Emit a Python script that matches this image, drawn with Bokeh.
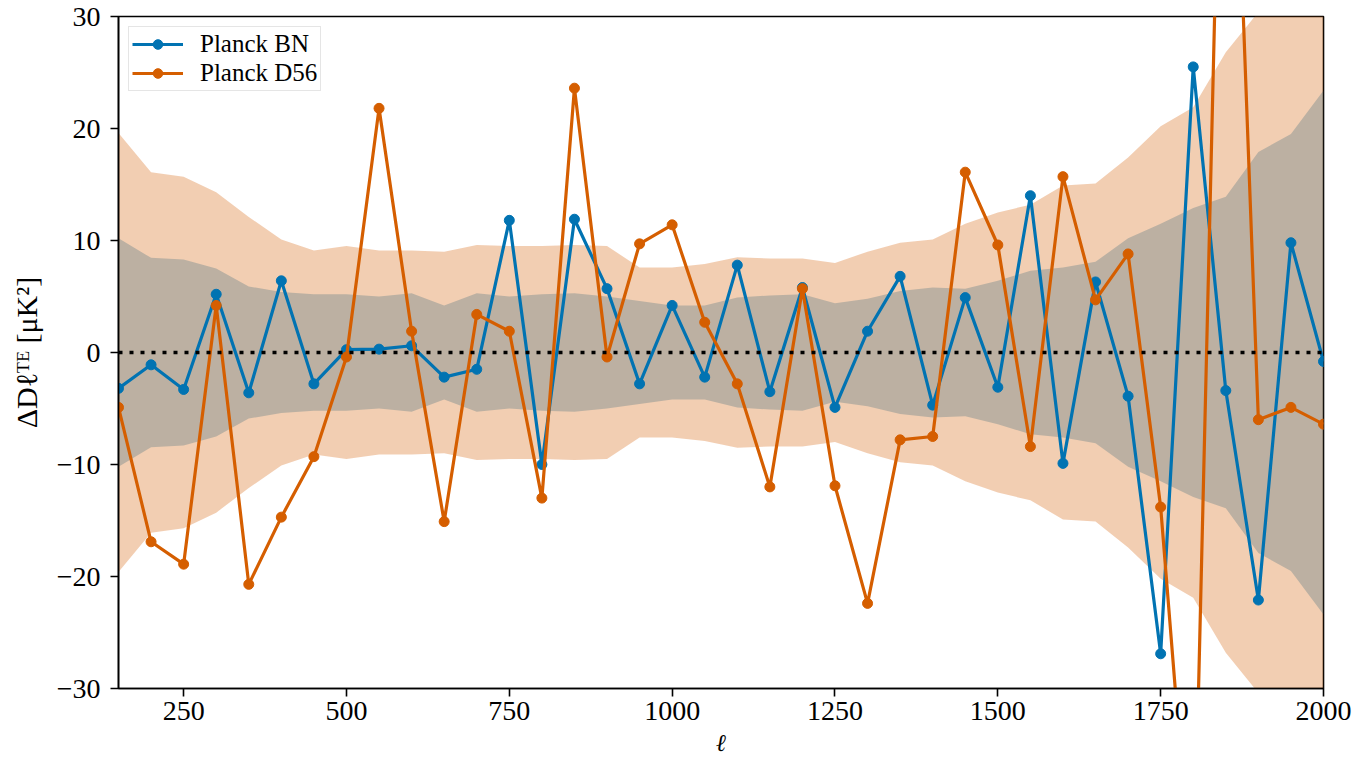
from bokeh.plotting import figure
from bokeh.models import Span, Legend, LegendItem, FixedTicker, ColumnDataSource
from bokeh.embed import file_html
from bokeh.resources import INLINE

ell = [150, 200, 250, 300, 350, 400, 450, 500, 550, 600, 650, 700, 750, 800,
       850, 900, 950, 1000, 1050, 1100, 1150, 1200, 1250, 1300, 1350, 1400,
       1450, 1500, 1550, 1600, 1650, 1700, 1750, 1800, 1850, 1900, 1950, 2000]

planck_bn = [-3.2, -1.1, -3.3, 5.2, -3.6, 6.4, -2.8, 0.25, 0.3, 0.6, -2.2, -1.5,
             11.8, -10.0, 11.9, 5.7, -2.8, 4.2, -2.2, 7.8, -3.5, 5.8, -4.9, 1.9,
             6.8, -4.7, 4.9, -3.1, 14.0, -9.9, 6.3, -3.9, -26.9, 25.5, -3.4,
             -22.1, 9.8, -0.8]

planck_d56 = [-4.9, -16.9, -18.9, 4.2, -20.7, -14.7, -9.3, -0.4, 21.8, 1.9,
              -15.1, 3.4, 1.9, -13.0, 23.6, -0.4, 9.7, 11.4, 2.7, -2.8, -12.0,
              5.7, -11.9, -22.4, -7.8, -7.5, 16.1, 9.6, -8.4, 15.7, 4.7, 8.8,
              -13.8, -50.0, 72.0, -6.0, -4.9, -6.4]

# half-widths of the shaded bands (symmetric about zero)
sigma_bn = [10.2, 8.45, 8.3, 7.5, 5.9, 5.4, 5.2, 5.2, 5.0, 5.3, 4.2, 5.3, 5.0,
            5.2, 5.3, 5.0, 4.6, 4.2, 4.2, 4.9, 5.1, 5.2, 4.4, 4.8, 5.5, 5.8,
            5.7, 6.4, 7.3, 7.6, 8.1, 10.2, 11.5, 12.9, 13.9, 17.9, 19.5, 23.4]

sigma_d56 = [19.6, 16.1, 15.7, 14.3, 12.1, 10.1, 9.1, 9.5, 9.1, 9.1, 9.0, 9.6,
             9.5, 9.5, 9.6, 9.5, 7.6, 7.6, 7.9, 8.5, 8.4, 8.4, 8.0, 9.0, 9.8,
             10.1, 11.5, 12.5, 13.2, 14.9, 15.1, 17.4, 20.2, 21.9, 26.8, 30.4,
             32.5, 34.0]

x_ticks = [250, 500, 750, 1000, 1250, 1500, 1750, 2000]
y_ticks = [-30, -20, -10, 0, 10, 20, 30]
y_tick_labels = ["\u221230", "\u221220", "\u221210", "0", "10", "20", "30"]

series_names = ["Planck BN", "Planck D56"]
x_label = "\u2113"
y_label = "\u0394D\u2113\u1d40\u1d31 [\u03bcK\u00b2]"
BLUE = "#0173B2"
ORANGE = "#D55E00"
FONT = "Liberation Serif"

src = ColumnDataSource(dict(
    ell=ell, bn=planck_bn, d56=planck_d56,
    bn_lo=[-s for s in sigma_bn], bn_hi=sigma_bn,
    d56_lo=[-s for s in sigma_d56], d56_hi=sigma_d56,
))

p = figure(width=1364, height=760, x_range=(150, 2000), y_range=(-30, 30),
           output_backend="svg", toolbar_location=None,
           min_border_left=118, min_border_right=41,
           min_border_top=16, min_border_bottom=72)

p.grid.visible = False
p.outline_line_color = "black"
p.outline_line_width = 1.6
p.background_fill_color = "white"
p.border_fill_color = "white"

# shaded bands: BN first, D56 on top
p.varea(x="ell", y1="bn_lo", y2="bn_hi", source=src, fill_color=BLUE, fill_alpha=0.3)
p.varea(x="ell", y1="d56_lo", y2="d56_hi", source=src, fill_color=ORANGE, fill_alpha=0.3)

zero = Span(location=0, dimension="width", line_color="black",
            line_width=3.5, line_dash="4 7")
p.add_layout(zero)

l1 = p.line("ell", "bn", source=src, line_color=BLUE, line_width=3.2)
s1 = p.scatter("ell", "bn", source=src, size=10, fill_color=BLUE, line_color=BLUE)
l2 = p.line("ell", "d56", source=src, line_color=ORANGE, line_width=3.2)
s2 = p.scatter("ell", "d56", source=src, size=10, fill_color=ORANGE, line_color=ORANGE)

legend = Legend(items=[LegendItem(label=series_names[0], renderers=[l1, s1]),
                       LegendItem(label=series_names[1], renderers=[l2, s2])],
                location="top_left")
legend.margin = 10
legend.padding = 3
legend.spacing = 1
legend.glyph_width = 51
legend.glyph_height = 24
legend.label_height = 24
legend.label_standoff = 17
legend.label_text_font = FONT
legend.label_text_font_size = "25px"
legend.label_text_color = "black"
legend.border_line_color = "#cccccc"
legend.border_line_width = 1.5
legend.background_fill_alpha = 0.8
p.add_layout(legend)

# axes
p.xaxis.ticker = FixedTicker(ticks=x_ticks)
p.yaxis.ticker = FixedTicker(ticks=y_ticks)
p.yaxis.major_label_overrides = dict(zip(y_ticks, y_tick_labels))
for ax in (p.xaxis[0], p.yaxis[0]):
    ax.axis_line_color = "black"
    ax.axis_line_width = 1.6
    ax.major_tick_line_color = "black"
    ax.major_tick_line_width = 1.6
    ax.major_tick_out = 8
    ax.major_tick_in = 0
    ax.minor_tick_line_color = None
    ax.major_label_text_font = FONT
    ax.major_label_text_font_size = "28px"
    ax.major_label_text_color = "black"
    ax.axis_label_text_font = FONT
    ax.axis_label_text_font_size = "30px"
    ax.axis_label_text_font_style = "normal"
    ax.axis_label_text_color = "black"

p.xaxis.axis_label = x_label
p.xaxis.axis_label_text_font_size = "24px"
p.xaxis.axis_label_text_font_style = "italic"
p.xaxis.major_label_standoff = 5
p.xaxis.axis_label_standoff = 7
p.yaxis.axis_label = y_label
p.yaxis.major_label_standoff = 10
p.yaxis.axis_label_standoff = 11

open("out.html", "w").write(file_html(p, INLINE))
